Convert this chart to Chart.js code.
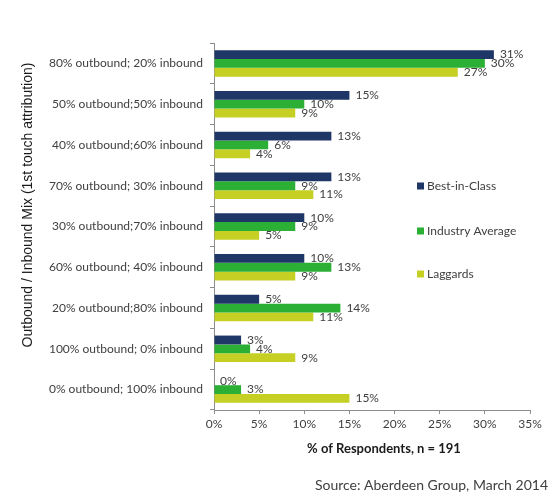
<!DOCTYPE html>
<html lang="en">
  <head>
    <meta charset="UTF-8" />
    <title>Outbound / Inbound Mix</title>
    <style>
      html, body { margin: 0; padding: 0; background: #fff; }
      .chart-view { width: 558px; height: 504px; }
    </style>
  </head>
  <body>
    <div class="chart-view">
      <canvas id="chart"></canvas>
    </div>

    <script src="https://cdn.jsdelivr.net/npm/chart.js@4.4.1/dist/chart.umd.min.js"></script>
    <script>
      //data
      const categories = [
        '80% outbound; 20% inbound',
        '50% outbound;50% inbound',
        '40% outbound;60% inbound',
        '70% outbound; 30% inbound',
        '30% outbound;70% inbound',
        '60% outbound; 40% inbound',
        '20% outbound;80% inbound',
        '100% outbound; 0% inbound',
        '0% outbound; 100% inbound'
      ];
      const bestInClass = [31, 15, 13, 13, 10, 10, 5, 3, 0];
      const industryAverage = [30, 10, 6, 9, 9, 13, 14, 4, 3];
      const laggards = [27, 9, 4, 11, 5, 9, 11, 9, 15];
      const xTicks = [0, 5, 10, 15, 20, 25, 30, 35];

      const TEXT = '#404040';
      const AXIS = '#8c8c8c';
      const FONT = 'Lato, "Open Sans", sans-serif';

      const data = {
        labels: categories,
        datasets: [
          { label: 'Best-in-Class', data: bestInClass, backgroundColor: '#1f3766' },
          { label: 'Industry Average', data: industryAverage, backgroundColor: '#2bb035' },
          { label: 'Laggards', data: laggards, backgroundColor: '#c5cf24' }
        ]
      };

      // value labels at the end of each bar
      const valueLabels = {
        id: 'valueLabels',
        afterDatasetsDraw(chart) {
          const ctx = chart.ctx;
          ctx.save();
          ctx.font = '12px ' + FONT;
          ctx.fillStyle = TEXT;
          ctx.textAlign = 'left';
          ctx.textBaseline = 'middle';
          chart.data.datasets.forEach((ds, i) => {
            chart.getDatasetMeta(i).data.forEach((bar, j) => {
              ctx.fillText(ds.data[j] + '%', bar.x + 6, bar.y);
            });
          });
          ctx.restore();
        }
      };

      // legend inside the plot, axis titles and the source line
      const extras = {
        id: 'extras',
        afterDraw(chart) {
          const ctx = chart.ctx;
          ctx.save();
          ctx.font = '12px ' + FONT;
          ctx.textBaseline = 'middle';
          ctx.textAlign = 'left';
          const rows = [186, 231, 274];
          chart.data.datasets.forEach((ds, i) => {
            ctx.fillStyle = ds.backgroundColor;
            ctx.fillRect(417, rows[i] - 3.5, 7, 7);
            ctx.fillStyle = TEXT;
            ctx.fillText(ds.label, 427, rows[i]);
          });

          // x title
          ctx.fillStyle = '#1a1a1a';
          ctx.textAlign = 'center';
          ctx.font = 'bold 13px ' + FONT;
          ctx.fillText('% of Respondents, n = 191', 384, 449);

          // y title
          ctx.save();
          ctx.translate(28, 205);
          ctx.rotate(-Math.PI / 2);
          ctx.font = '14px "Liberation Sans", Arial, sans-serif';
          ctx.fillText('Outbound / Inbound Mix (1st touch attribution)', 0, 0);
          ctx.restore();

          ctx.fillStyle = TEXT;
          ctx.font = '14px ' + FONT;
          ctx.textAlign = 'right';
          ctx.fillText('Source: Aberdeen Group, March 2014', 548, 485);
          ctx.restore();
        }
      };

      //config
      const config = {
        type: 'bar',
        data: data,
        plugins: [valueLabels, extras],
        options: {
          indexAxis: 'y',
          responsive: true,
          maintainAspectRatio: false,
          animation: false,
          layout: { padding: { top: 43, right: 28, left: 0, bottom: 0 } },
          datasets: {
            bar: { categoryPercentage: 0.65, barPercentage: 1.0 }
          },
          plugins: {
            legend: { display: false },
            tooltip: { enabled: false }
          },
          scales: {
            x: {
              min: 0,
              max: 35,
              afterBuildTicks: (scale) => {
                scale.ticks = xTicks.map((v) => ({ value: v }));
              },
              afterFit: (scale) => {
                scale.height = 94;
              },
              ticks: {
                color: TEXT,
                font: { family: FONT, size: 12 },
                padding: 3,
                callback: (v) => v + '%'
              },
              grid: { drawOnChartArea: false, tickLength: 4, color: AXIS },
              border: { color: AXIS }
            },
            y: {
              afterFit: (scale) => {
                scale.width = 214;
              },
              ticks: {
                color: TEXT,
                font: { family: FONT, size: 12 },
                padding: 7
              },
              grid: { drawOnChartArea: false, tickLength: 4, color: AXIS, offset: true },
              border: { color: AXIS }
            }
          }
        }
      };

      //init
      const ctx = document.getElementById('chart');
      const chart = new Chart(ctx, config);
    </script>
  </body>
</html>
